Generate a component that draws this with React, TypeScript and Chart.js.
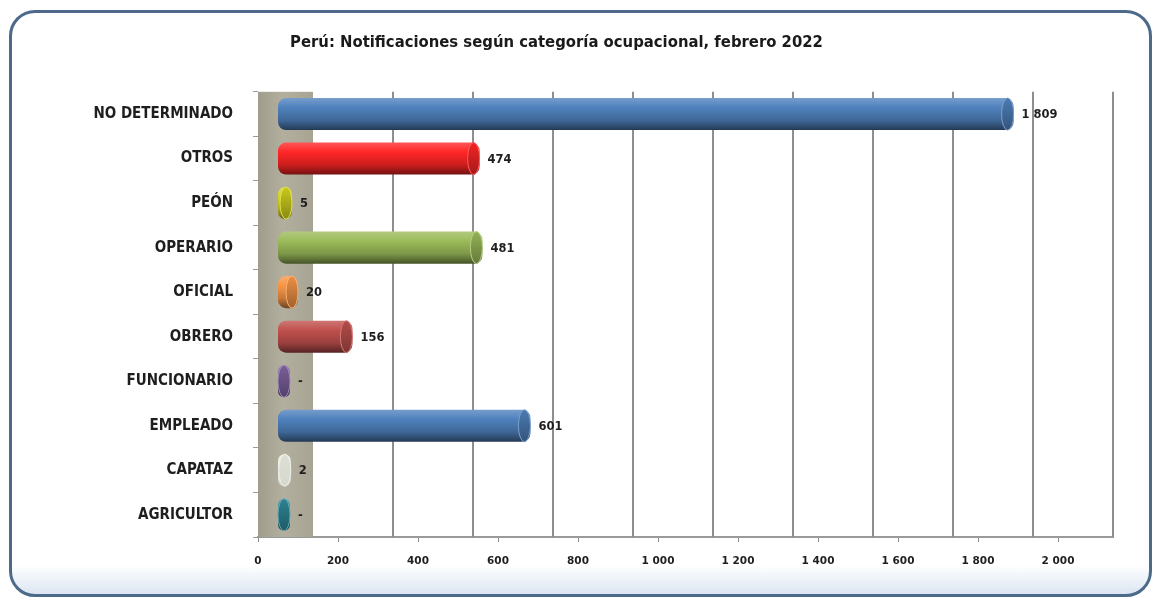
import React, { useEffect, useRef } from "react";
import { Chart, registerables } from "chart.js";

Chart.register(...registerables);

const chartTitle = "Perú: Notificaciones según categoría ocupacional, febrero 2022";
const categories = [
  "NO DETERMINADO",
  "OTROS",
  "PEÓN",
  "OPERARIO",
  "OFICIAL",
  "OBRERO",
  "FUNCIONARIO",
  "EMPLEADO",
  "CAPATAZ",
  "AGRICULTOR",
];
const values = [1809, 474, 5, 481, 20, 156, 0, 601, 2, 0];
const barColors = [
  "#4f81bd",
  "#ff2626",
  "#d4d41c",
  "#9bbb59",
  "#f79646",
  "#c0504d",
  "#8064a2",
  "#4f81bd",
  "#e9ebe0",
  "#2f8a9c",
];
const xTickValues = [0, 200, 400, 600, 800, 1000, 1200, 1400, 1600, 1800, 2000];

const condensed = "'Liberation Sans Narrow', 'DejaVu Sans Condensed', 'Arial Narrow', sans-serif";
const wideBold = "'DejaVu Sans', Verdana, sans-serif";

function hexToRgb(h: string) {
  const n = parseInt(h.slice(1), 16);
  return [(n >> 16) & 255, (n >> 8) & 255, n & 255];
}
function mix(h: string, target: number, t: number) {
  const [r, g, b] = hexToRgb(h);
  const f = (c: number) => Math.round(c + (target - c) * t);
  return `rgb(${f(r)},${f(g)},${f(b)})`;
}
function fmt(v: number) {
  if (v === 0) return "-";
  return String(v).replace(/\B(?=(\d{3})+(?!\d))/g, " ");
}

const wallPlugin = {
  id: "wall",
  beforeDatasetsDraw(chart: any) {
    const { ctx, chartArea, scales } = chart;
    const x = scales.x;
    const xg = scales.xg;
    const x0 = x.getPixelForValue(0);
    const x1 = xg.getPixelForValue(0);
    ctx.save();
    const g = ctx.createLinearGradient(x0, 0, x1, 0);
    g.addColorStop(0, "#a19d8d");
    g.addColorStop(0.45, "#b3af9e");
    g.addColorStop(1, "#a8a494");
    ctx.fillStyle = g;
    ctx.fillRect(x0, chartArea.top, x1 - x0, chartArea.bottom - chartArea.top);
    ctx.strokeStyle = "#8e8e8e";
    ctx.lineWidth = 2;
    xg.ticks.forEach((t: any) => {
      if (t.value <= 0) return;
      const px = Math.round(xg.getPixelForValue(t.value));
      ctx.beginPath();
      ctx.moveTo(px, chartArea.top);
      ctx.lineTo(px, chartArea.bottom);
      ctx.stroke();
    });
    ctx.restore();
  },
};

const capsPlugin = {
  id: "caps",
  afterDatasetsDraw(chart: any) {
    const { ctx } = chart;
    const meta = chart.getDatasetMeta(0);
    ctx.save();
    meta.data.forEach((el: any, i: number) => {
      const { x, y, base, height } = el.getProps(["x", "y", "base", "height"], true);
      const col = barColors[i];
      const len = x - base;
      const rx = Math.min(6, len / 2);
      const ry = height / 2;
      ctx.beginPath();
      ctx.ellipse(x - rx, y, rx, ry, 0, 0, Math.PI * 2);
      const g = ctx.createLinearGradient(0, y - ry, 0, y + ry);
      g.addColorStop(0, mix(col, 0, 0.05));
      g.addColorStop(1, mix(col, 0, i === 8 ? 0.08 : 0.35));
      ctx.fillStyle = g;
      ctx.fill();
      ctx.lineWidth = 1;
      ctx.strokeStyle = mix(col, 255, 0.25);
      ctx.stroke();
      ctx.font = `bold 11.5px ${wideBold}`;
      ctx.fillStyle = "#1e1e1e";
      ctx.textAlign = "left";
      ctx.textBaseline = "middle";
      ctx.fillText(fmt(values[i]), x + 8, y + 1);
    });
    ctx.restore();
  },
};

export default function App() {
  const ref = useRef<HTMLCanvasElement>(null);
  useEffect(() => {
    if (!ref.current) return;
    const chart = new Chart(ref.current, {
      type: "bar",
      data: {
        labels: categories,
        datasets: [
          {
            data: values,
            xAxisID: "xb",
            yAxisID: "y",
            base: -30,
            backgroundColor: (c: any) => {
              const col = barColors[c.dataIndex] || "#888888";
              const ch = c.chart;
              const ys = ch.scales && ch.scales.y;
              if (!ys || !ch.chartArea) return col;
              const yc = ys.getPixelForValue(c.dataIndex);
              const soft = c.dataIndex === 8;
              const g = ch.ctx.createLinearGradient(0, yc - 16, 0, yc + 16);
              g.addColorStop(0, mix(col, 255, 0.22));
              g.addColorStop(0.3, col);
              g.addColorStop(0.7, mix(col, 0, soft ? 0.04 : 0.2));
              g.addColorStop(1, mix(col, 0, soft ? 0.1 : 0.55));
              return g;
            },
            borderWidth: 0,
            borderRadius: 8,
            borderSkipped: false,
            categoryPercentage: 1,
            barPercentage: 0.72,
          } as any,
        ],
      },
      options: {
        indexAxis: "y",
        responsive: false,
        animation: false,
        layout: { padding: { top: 3, right: 42, bottom: 0, left: 0 } },
        plugins: {
          legend: { display: false },
          tooltip: { enabled: false },
          title: {
            display: true,
            text: chartTitle,
            color: "#1a1a1a",
            font: { family: condensed, size: 16.5, weight: "bold" },
            padding: { top: 30, bottom: 39 },
          },
        },
        scales: {
          x: {
            type: "linear",
            position: "bottom",
            min: 0,
            max: 2137.5,
            afterBuildTicks: (s: any) => {
              s.ticks = xTickValues.map((v) => ({ value: v }));
            },
            afterFit: (s: any) => {
              s.height = 61;
            },
            grid: { drawOnChartArea: false, drawTicks: true, tickLength: 5, color: "#8a8a8a", lineWidth: 1 },
            border: { display: true, color: "#9a9a9a", width: 2 },
            ticks: {
              padding: 13,
              color: "#1e1e1e",
              font: { family: wideBold, size: 10.5, weight: "bold" },
              callback: (v: any) => fmt(Number(v)).replace("-", "0"),
              maxRotation: 0,
              autoSkip: false,
            },
          },
          xb: {
            type: "linear",
            position: "bottom",
            display: false,
            min: -80,
            max: 2057.5,
          },
          xg: {
            type: "linear",
            position: "bottom",
            display: false,
            min: -137.5,
            max: 2000,
            afterBuildTicks: (s: any) => {
              s.ticks = xTickValues.map((v) => ({ value: v }));
            },
          },
          y: {
            type: "category",
            position: "left",
            afterFit: (s: any) => {
              s.width = 258;
            },
            grid: { drawOnChartArea: false, drawTicks: true, tickLength: 5, color: "#9a9a9a", offset: true },
            border: { display: false },
            ticks: {
              padding: 20,
              color: "#1e1e1e",
              font: { family: condensed, size: 15, weight: "bold" },
              autoSkip: false,
            },
          },
        },
      } as any,
      plugins: [wallPlugin, capsPlugin],
    });
    return () => chart.destroy();
  }, []);

  return (
    <div style={{ position: "absolute", left: 0, top: 0, width: 1155, height: 598, background: "#ffffff", overflow: "hidden" }}>
      <div
        style={{
          position: "absolute",
          left: 9,
          top: 10,
          width: 1143,
          height: 587,
          boxSizing: "border-box",
          border: "3px solid #4d6a8a",
          borderRadius: 26,
          background: "linear-gradient(to bottom, #ffffff 0%, #ffffff 95%, #dbe6f2 100%)",
        }}
      />
      <canvas ref={ref} width={1155} height={598} style={{ position: "absolute", left: 0, top: 0, width: 1155, height: 598 }} />
    </div>
  );
}
